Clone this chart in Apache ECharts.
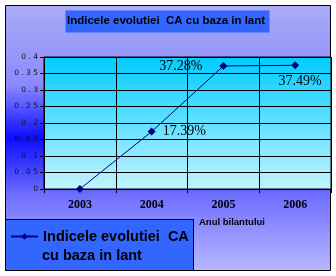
<!DOCTYPE html>
<html><head><meta charset="utf-8">
<script src="https://cdn.jsdelivr.net/npm/echarts@6/dist/echarts.min.js"></script>
<style>html,body{margin:0;padding:0;background:#fff}#c{width:336px;height:276px}</style>
</head><body><div id="c"></div>
<script>
var categories = ['2003', '2004', '2005', '2006'];
var seriesValues = [0, 0.1739, 0.3728, 0.3749];
var yTicks = [0, 0.05, 0.1, 0.15, 0.2, 0.25, 0.3, 0.35, 0.4];
var seriesName = 'Indicele evolutiei  CA cu baza in lant';
var legendLine1 = 'Indicele evolutiei  CA';
var legendLine2 = 'cu baza in lant';
var titleText = 'Indicele evolutiei  CA cu baza in lant';
var xAxisTitle = 'Anul bilantului';

var labelStyles = [
  { show: false },
  { show: true, position: 'right', distance: 7 },
  { show: true, position: 'left', distance: 17 },
  { show: true, position: 'bottom', distance: 5, offset: [5, 0] }
];

var chart = echarts.init(document.getElementById('c'), null, { renderer: 'canvas' });
var G = echarts.graphic;
var option = {
  animation: false,
  backgroundColor: '#ffffff',
  graphic: [
    { type: 'rect', z: -10, shape: { x: 5.5, y: 5.5, width: 325, height: 265 },
      style: { fill: new G.LinearGradient(0, 0, 0, 1, [
        { offset: 0, color: '#ababf4' },
        { offset: 0.3, color: '#8a8aff' },
        { offset: 0.5, color: '#0c0cff' },
        { offset: 0.72, color: '#7070ff' },
        { offset: 1, color: '#b8b8ff' }
      ]), stroke: '#000', lineWidth: 1 } },
    { type: 'rect', z: 5, shape: { x: 65.5, y: 10.5, width: 204, height: 22 },
      style: { fill: '#3366ff', stroke: 'none' } },
    { type: 'text', z: 6, left: 67, top: 15,
      style: { text: titleText, font: 'bold 11.5px "Liberation Sans", Arial, sans-serif', fill: '#000' } },
    { type: 'rect', z: 5, shape: { x: 5.5, y: 219.5, width: 188, height: 51 },
      style: { fill: '#3366ff', stroke: '#000', lineWidth: 1 } },
    { type: 'text', z: 11, left: 42, top: 248,
      style: { text: legendLine2, font: 'bold 14.5px "Liberation Sans", Arial, sans-serif', fill: '#000' } },
    { type: 'text', z: 6, left: 199, top: 217,
      style: { text: xAxisTitle, font: 'bold 9.5px "Liberation Sans", Arial, sans-serif', fill: '#000' } }
  ],
  grid: { left: 44, right: 5, top: 57, bottom: 87, show: true,
    backgroundColor: new G.LinearGradient(0, 0, 0, 1, [
      { offset: 0, color: '#00ccff' },
      { offset: 1, color: '#c2f4ff' }
    ]),
    borderColor: '#000', borderWidth: 1 },
  legend: {
    z: 10,
    left: 5, top: 225, padding: [4, 5],
    itemWidth: 27, itemHeight: 8, itemGap: 0,
    data: [seriesName],
    formatter: function () { return legendLine1; },
    textStyle: { fontFamily: '"Liberation Sans", Arial, sans-serif', fontWeight: 'bold', fontSize: 14.5, color: '#000' }
  },
  xAxis: {
    type: 'category', data: categories, boundaryGap: true,
    axisLine: { show: true, lineStyle: { color: '#000', width: 1 } },
    axisTick: { show: true, length: 4, lineStyle: { color: '#000' } },
    axisLabel: { margin: 10, fontFamily: '"Liberation Serif", "Times New Roman", serif', fontWeight: 'bold', fontSize: 12, color: '#000' },
    splitLine: { show: true, lineStyle: { color: '#000', width: 1 } }
  },
  yAxis: {
    type: 'value', min: 0, max: 0.4, interval: 0.05,
    axisLine: { show: true, lineStyle: { color: '#000', width: 1 } },
    axisTick: { show: true, length: 4, lineStyle: { color: '#000' } },
    axisLabel: { margin: 6, fontFamily: '"DejaVu Sans", sans-serif', fontSize: 7.5, color: '#111',
      formatter: function (v) {
        var t = yTicks.reduce(function (a, b) { return Math.abs(b - v) < Math.abs(a - v) ? b : a; });
        return String(+t.toFixed(2)).split('').join(' ');
      } },
    splitLine: { show: true, lineStyle: { color: '#000', width: 1 } }
  },
  series: [{
    name: seriesName, type: 'line',
    data: seriesValues.map(function (v, i) { return { value: v, label: labelStyles[i] }; }),
    symbol: 'diamond', symbolSize: 8,
    itemStyle: { color: '#000080' },
    lineStyle: { color: '#000080', width: 1 },
    label: { formatter: function (p) { return (p.value * 100).toFixed(2) + '%'; },
      fontFamily: '"Liberation Serif", "Times New Roman", serif', fontSize: 14, color: '#000' }
  }]
};
chart.setOption(option);
</script></body></html>
